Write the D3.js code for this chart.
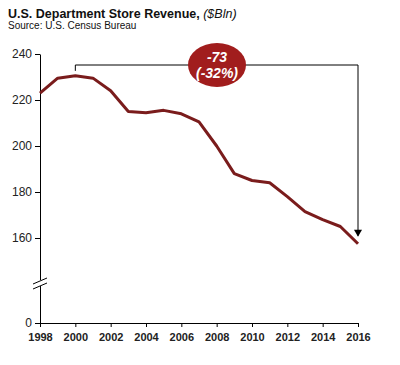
<!DOCTYPE html>
<html><head><meta charset="utf-8">
<script src="https://cdn.jsdelivr.net/npm/d3@7"></script>
<style>body{margin:0;background:#fff;} text{font-family:Arial,"Liberation Sans",sans-serif;}</style>
</head><body>
<svg id="c" width="400" height="365"></svg>
<script>
const years = [1998,1999,2000,2001,2002,2003,2004,2005,2006,2007,2008,2009,2010,2011,2012,2013,2014,2015,2016];
const revenue = [223,229.5,230.5,229.5,224,215,214.5,215.5,214,210.5,200,188,185,184,178,171.5,168,165,157.5];
const yTicks = [0,160,180,200,220,240];
const xTicks = [1998,2000,2002,2004,2006,2008,2010,2012,2014,2016];
const changeLabel = ["-73","(-32%)"];

const svg = d3.select("#c");
const x = d3.scaleLinear().domain([1998,2016]).range([40,358]);
const y = d3.scaleLinear().domain([0,140,240]).range([323,284,54]);

svg.append("text").attr("x",8).attr("y",18).attr("font-size",12.5).attr("font-weight","bold").attr("fill","#111")
  .text("U.S. Department Store Revenue, ")
  .append("tspan").attr("font-style","italic").attr("font-weight","normal").text("($Bln)");
svg.append("text").attr("x",8).attr("y",28.5).attr("font-size",10).attr("fill","#111").text("Source: U.S. Census Bureau");

// Y axis
const ya = svg.append("g").attr("transform","translate(40,0)")
  .call(d3.axisLeft(y).tickValues(yTicks).tickSize(5).tickSizeOuter(0).tickPadding(3));
ya.select(".domain").attr("stroke","#000");
ya.selectAll("text").attr("font-size",12).attr("fill","#222").attr("font-family","Arial,'Liberation Sans',sans-serif");
// X axis
const xa = svg.append("g").attr("transform","translate(0,323)")
  .call(d3.axisBottom(x).tickValues(xTicks).tickFormat(d3.format("d")).tickSize(4).tickSizeOuter(0).tickPadding(6));
xa.selectAll("text").attr("font-size",11).attr("font-weight","bold").attr("fill","#222").attr("font-family","Arial,'Liberation Sans',sans-serif");

// axis break
const by = y(140);
svg.append("rect").attr("x",34).attr("y",by-4).attr("width",12).attr("height",6).attr("fill","#fff");
[[-3],[2]].forEach(o=>{
  svg.append("line").attr("x1",33).attr("y1",by+o[0]+3).attr("x2",47).attr("y2",by+o[0]-3).attr("stroke","#000").attr("stroke-width",1);
});

// line
const line = d3.line().x((d,i)=>x(years[i])).y(d=>y(d));
svg.append("path").datum(revenue).attr("d",line).attr("fill","none").attr("stroke","#7a1c1c").attr("stroke-width",3).attr("stroke-linejoin","round");

// bracket annotation
const topY = 65;
const x0 = x(2000), x1 = x(2016);
svg.append("path").attr("d",`M${x0},${y(revenue[2])-5}V${topY}H${x1}V${y(161)}`).attr("fill","none").attr("stroke","#000").attr("stroke-width",1);
svg.append("path").attr("d",`M${x1-4},${y(161)-6}L${x1+4},${y(161)-6}L${x1},${y(161)+1}Z`).attr("fill","#000");
svg.append("ellipse").attr("cx",217).attr("cy",topY).attr("rx",29).attr("ry",22).attr("fill","#a11d1d");
changeLabel.forEach((t,i)=>{
  svg.append("text").attr("x",217).attr("y",topY-3+i*16).attr("text-anchor","middle").attr("font-size",14)
    .attr("font-weight","bold").attr("font-style","italic").attr("fill","#fff").text(t);
});
</script>
</body></html>
